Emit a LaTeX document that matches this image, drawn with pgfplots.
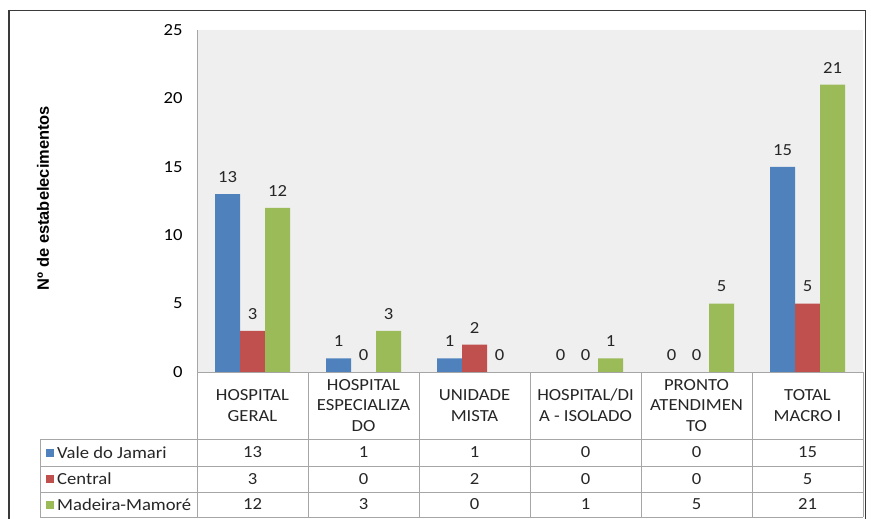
\documentclass[border=0pt]{standalone}
\usepackage{pgfplots}
\pgfplotsset{compat=1.18}
\usepackage{pgfplotstable}
\usepackage{fontspec}
\setmainfont{Carlito}[FakeStretch=1.1]
\newfontfamily\arialfont{Liberation Sans}
\definecolor{cblue}{HTML}{4F81BD}
\definecolor{cred}{HTML}{C0504D}
\definecolor{cgreen}{HTML}{9BBB59}
\definecolor{plotbg}{HTML}{EFEFEF}
\definecolor{tline}{HTML}{A6A6A6}
\definecolor{frame}{HTML}{3A3A3A}
\newcommand\cf{\fontsize{17}{21}\selectfont}

\pgfplotstableread{
x vale central madeira
0 13 3 12
1 1 0 3
2 1 2 0
3 0 0 1
4 0 0 5
5 15 5 21
}\datatable

\begin{document}
\begin{tikzpicture}[x=1bp,y=1bp]
\useasboundingbox (0,0) rectangle (871,-519);
\clip (0,0) rectangle (871,-519);
\fill[white] (0,0) rectangle (871,-519);
\draw[frame, line width=1.5bp] (9,-540) -- (9,-10.5) -- (865.5,-10.5) -- (865.5,-540);
\begin{axis}[
  at={(197bp,-372bp)}, anchor=south west,
  scale only axis, width=666bp, height=342bp,
  xmin=-0.5, xmax=5.5, ymin=0, ymax=25,
  ytick={0,5,...,25}, xtick=\empty,
  major tick length=0pt,
  axis line style={draw=none},
  axis background/.style={fill=plotbg},
  /pgf/number format/assume math mode=true,
  y tick label style={font=\cf, xshift=-11bp},
  ybar, bar width=25bp,
  clip=false,
  nodes near coords,
  every node near coord/.append style={font=\cf, anchor=center, yshift=17bp, text=black!85},
]
\addplot[fill=cblue, draw=none, bar shift=-25bp] table[x=x,y=vale]{\datatable};
\addplot[fill=cred, draw=none, bar shift=0bp] table[x=x,y=central]{\datatable};
\addplot[fill=cgreen, draw=none, bar shift=25bp] table[x=x,y=madeira]{\datatable};
\end{axis}
% y label
\node[rotate=90, font=\arialfont\bfseries\fontsize{16.5}{16.5}\selectfont] at (43,-198) {Nº de estabelecimentos};
% table lines
\begin{scope}[draw=tline, line width=0.8bp]
\draw (197,-30) -- (197,-517);
\foreach \xx in {308,419,530,641,752,863} \draw (\xx,-372) -- (\xx,-517);
\draw (197,-372) -- (863,-372);
\foreach \yy in {439,466,492,517} \draw (40,-\yy) -- (863,-\yy);
\draw (40,-439) -- (40,-517);
\end{scope}
% headers
\foreach \i/\lab in {0/{HOSPITAL\\GERAL},1/{HOSPITAL\\ESPECIALIZA\\DO},2/{UNIDADE\\MISTA},3/{HOSPITAL/DI\\A - ISOLADO},4/{PRONTO\\ATENDIMEN\\TO},5/{TOTAL\\MACRO I}}
  \node[font=\cf, align=center, text=black!85, inner sep=0pt] at ({252.5+111*\i},-405.5) {\lab};
% legend keys and names
\fill[cblue] (46,-448.5) rectangle (54,-456.5);
\fill[cred] (46,-475) rectangle (54,-483);
\fill[cgreen] (46,-500.5) rectangle (54,-508.5);
\node[font=\cf, anchor=west, inner sep=0pt, text=black!85] at (57,-452.5) {Vale do Jamari};
\node[font=\cf, anchor=west, inner sep=0pt, text=black!85] at (57,-479) {Central};
\node[font=\cf, anchor=west, inner sep=0pt, text=black!85] at (57,-504.5) {Madeira-Mamoré};
% table values
\foreach \i in {0,...,5} {
  \pgfplotstablegetelem{\i}{vale}\of\datatable
  \node[font=\cf, text=black!85] at ({252.5+111*\i},-452.5) {\pgfplotsretval};
  \pgfplotstablegetelem{\i}{central}\of\datatable
  \node[font=\cf, text=black!85] at ({252.5+111*\i},-479) {\pgfplotsretval};
  \pgfplotstablegetelem{\i}{madeira}\of\datatable
  \node[font=\cf, text=black!85] at ({252.5+111*\i},-504.5) {\pgfplotsretval};
}
\end{tikzpicture}
\end{document}
